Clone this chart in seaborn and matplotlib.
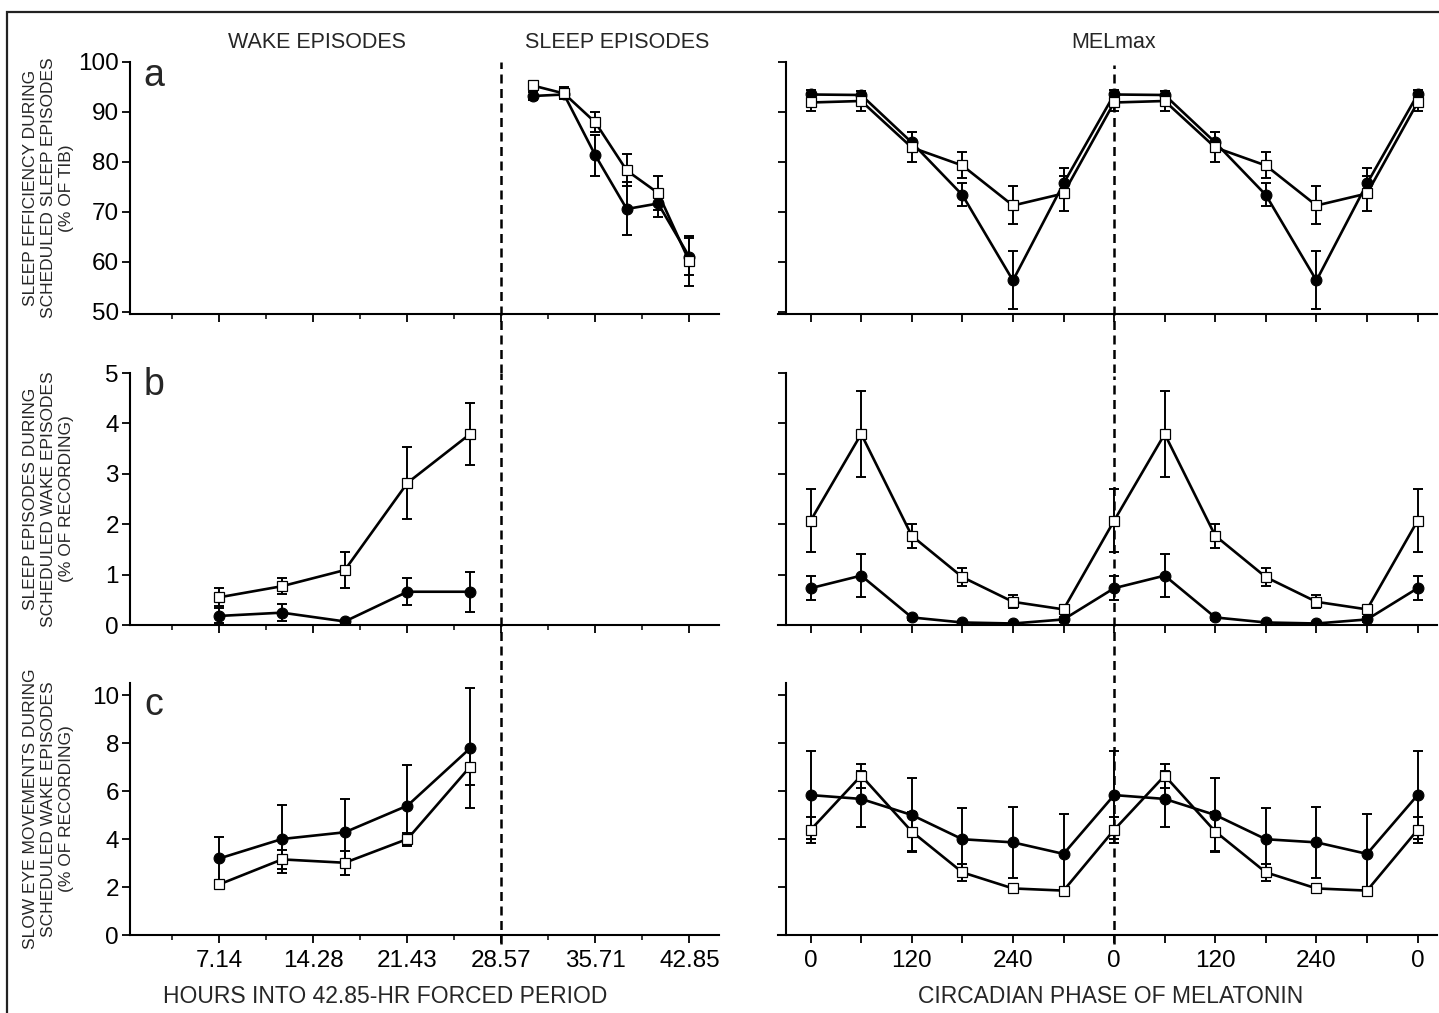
import pandas as pd
import seaborn as sns
import matplotlib.pyplot as plt
from matplotlib.patches import Rectangle

# time bins (hours into the 42.85-h forced period)
wake_hours = [7.14, 11.90, 16.67, 21.43, 26.19]
sleep_hours = [30.95, 33.33, 35.71, 38.09, 40.47, 42.85]
hour_ticks = [7.14, 14.28, 21.43, 28.57, 35.71, 42.85]
hour_minor = [3.57, 10.71, 17.86, 25.0, 32.14, 39.28]
hour_labels = ['7.14', '14.28', '21.43', '28.57', '35.71', '42.85']

# circadian phase bins (double plotted)
phase = [0, 60, 120, 180, 240, 300, 360, 420, 480, 540, 600, 660, 720]
phase_labels = ['0', '', '120', '', '240', '', '0', '', '120', '', '240', '', '0']

# a: sleep efficiency during scheduled sleep episodes
eff_circ = [93.2, 93.5, 81.3, 70.6, 71.7, 61.0]
eff_circ_se = [0.8, 1.0, 4.1, 5.3, 2.8, 3.7]
eff_sq = [95.3, 93.7, 87.9, 78.3, 73.8, 60.1]
eff_sq_se = [0.7, 1.2, 2.0, 3.2, 3.4, 5.0]

mel_eff_circ = [93.5, 93.4, 83.9, 73.4, 56.3, 75.7]
mel_eff_circ_se = [0.9, 0.8, 2.0, 2.3, 5.8, 3.0]
mel_eff_sq = [91.9, 92.2, 82.9, 79.3, 71.3, 73.7]
mel_eff_sq_se = [1.8, 2.0, 3.0, 2.6, 3.8, 3.5]

# b: sleep episodes during scheduled wake episodes
se_circ = [0.18, 0.245, 0.07, 0.66, 0.66]
se_circ_se = [0.15, 0.17, 0.03, 0.27, 0.40]
se_sq = [0.55, 0.77, 1.09, 2.82, 3.79]
se_sq_se = [0.18, 0.16, 0.36, 0.71, 0.62]

mel_se_circ = [0.73, 0.98, 0.15, 0.05, 0.03, 0.11]
mel_se_circ_se = [0.24, 0.43, 0.05, 0.02, 0.02, 0.05]
mel_se_sq = [2.07, 3.79, 1.77, 0.95, 0.46, 0.31]
mel_se_sq_se = [0.63, 0.86, 0.24, 0.18, 0.13, 0.05]

# c: slow eye movements during scheduled wake episodes
sem_circ = [3.19, 4.00, 4.28, 5.39, 7.78]
sem_circ_se = [0.9, 1.42, 1.37, 1.7, 2.5]
sem_sq = [2.11, 3.15, 3.01, 4.00, 7.01]
sem_sq_se = [0.15, 0.4, 0.49, 0.25, 0.76]

mel_sem_circ = [5.83, 5.67, 5.00, 3.99, 3.86, 3.38]
mel_sem_circ_se = [1.83, 1.18, 1.53, 1.29, 1.49, 1.65]
mel_sem_sq = [4.38, 6.64, 4.31, 2.61, 1.94, 1.85]
mel_sem_sq_se = [0.55, 0.5, 0.8, 0.35, 0.1, 0.15]


def double_plot(v):
    # one cycle of bins shown twice, plus the first bin again
    return list(v) + list(v) + list(v[:1])


sns.set_style('ticks')
plt.rcParams['font.family'] = ['Liberation Sans', 'DejaVu Sans']

W, H = 1439, 1013
fig = plt.figure(figsize=(W / 100, H / 100), dpi=100)

row_bottoms = [1 - 314 / H, 1 - 625 / H, 1 - 935 / H]
row_h = 252 / H
ylims = [(49.6, 100), (0, 5), (0, 10.5)]
yticks = [[50, 60, 70, 80, 90, 100], [0, 1, 2, 3, 4, 5], [0, 2, 4, 6, 8, 10]]


def style_axes(ax, ylim, yt):
    for s in ['top', 'right']:
        ax.spines[s].set_visible(False)
    for s in ['left', 'bottom']:
        ax.spines[s].set_linewidth(1.5)
        ax.spines[s].set_color('black')
    ax.set_ylim(*ylim)
    ax.set_yticks(yt)
    ax.tick_params(axis='both', which='major', direction='out', length=5.5,
                   width=1.3, labelsize=17.5, colors='black', pad=2.5)
    ax.tick_params(axis='x', which='minor', direction='out', length=3.5, width=1.3)
    ax.set_xlabel('')
    ax.set_ylabel('')


def draw(ax, x, circ, circ_se, sq, sq_se):
    ax.errorbar(x, circ, yerr=circ_se, fmt='none', ecolor='black',
                elinewidth=1.4, capsize=3.5, capthick=1.4, zorder=2)
    ax.errorbar(x, sq, yerr=sq_se, fmt='none', ecolor='black',
                elinewidth=1.4, capsize=3.5, capthick=1.4, zorder=2)
    df = pd.DataFrame({'x': x, 'circ': circ, 'sq': sq})
    sns.lineplot(data=df, x='x', y='circ', ax=ax, color='black', lw=1.9,
                 marker='o', ms=7.8, mfc='black', mec='black', mew=0.8,
                 sort=False, zorder=3)
    sns.lineplot(data=df, x='x', y='sq', ax=ax, color='black', lw=1.9,
                 marker='s', ms=6.8, mfc='white', mec='black', mew=0.9,
                 sort=False, zorder=4)


left_axes = []
right_axes = []
for i in range(3):
    axl = fig.add_axes([130 / W, row_bottoms[i], 589 / W, row_h])
    axr = fig.add_axes([778 / W, row_bottoms[i], 659 / W, row_h])
    left_axes.append(axl)
    right_axes.append(axr)

# panel data
draw(left_axes[0], sleep_hours, eff_circ, eff_circ_se, eff_sq, eff_sq_se)
draw(left_axes[1], wake_hours, se_circ, se_circ_se, se_sq, se_sq_se)
draw(left_axes[2], wake_hours, sem_circ, sem_circ_se, sem_sq, sem_sq_se)

draw(right_axes[0], phase, double_plot(mel_eff_circ), double_plot(mel_eff_circ_se),
     double_plot(mel_eff_sq), double_plot(mel_eff_sq_se))
draw(right_axes[1], phase, double_plot(mel_se_circ), double_plot(mel_se_circ_se),
     double_plot(mel_se_sq), double_plot(mel_se_sq_se))
draw(right_axes[2], phase, double_plot(mel_sem_circ), double_plot(mel_sem_circ_se),
     double_plot(mel_sem_sq), double_plot(mel_sem_sq_se))

dash = (0, (3.6, 2.2))
for i in range(3):
    axl, axr = left_axes[i], right_axes[i]
    style_axes(axl, ylims[i], yticks[i])
    style_axes(axr, ylims[i], yticks[i])

    axl.set_xlim(0.35, 45.1)
    axl.set_xticks(hour_ticks)
    axl.set_xticks(hour_minor, minor=True)
    axr.set_xlim(-38.7, 743)
    axr.spines['left'].set_position(('data', -29.4))
    axr.set_xticks(phase)
    axr.set_yticklabels([])
    if i == 2:
        axl.set_xticklabels(hour_labels)
        axr.set_xticklabels(phase_labels)
        axl.tick_params(axis='x', pad=5)
        axr.tick_params(axis='x', pad=5)
    else:
        axl.set_xticklabels([])
        axr.set_xticklabels([])

    lo = -0.035 if i == 2 else -0.235
    axl.axvline(28.57, ymin=lo, ymax=1.0, color='black', lw=1.8, ls=dash,
                clip_on=False, zorder=1)
    axr.axvline(360, ymin=lo, ymax=0.99, color='black', lw=1.8, ls=dash,
                clip_on=False, zorder=1)

# column headers
fig.text(317 / W, 1 - 42 / H, 'WAKE EPISODES', ha='center', va='center', fontsize=15.5)
fig.text(617 / W, 1 - 42 / H, 'SLEEP EPISODES', ha='center', va='center', fontsize=15.5)
fig.text(1114 / W, 1 - 42 / H, 'MELmax', ha='center', va='center', fontsize=15.5)

# panel letters
for letter, ybase in zip(['a', 'b', 'c'], [86, 395, 715]):
    fig.text(154 / W, 1 - ybase / H, letter, ha='center', va='baseline', fontsize=27)

# y labels
ylabels = ['SLEEP EFFICIENCY DURING\nSCHEDULED SLEEP EPISODES\n(% OF TIB)',
           'SLEEP EPISODES DURING\nSCHEDULED WAKE EPISODES\n(% OF RECORDING)',
           'SLOW EYE MOVEMENTS DURING\nSCHEDULED WAKE EPISODES\n(% OF RECORDING)']
for i, lab in enumerate(ylabels):
    fig.text(49 / W, row_bottoms[i] + row_h / 2, lab, rotation=90, ha='center',
             va='center', multialignment='center', fontsize=12.5, linespacing=1.25)

# x labels
fig.text(385 / W, 1 - 996 / H, 'HOURS INTO 42.85-HR FORCED PERIOD', ha='center',
         va='center', fontsize=16.5)
fig.text(1111 / W, 1 - 996 / H, 'CIRCADIAN PHASE OF MELATONIN', ha='center',
         va='center', fontsize=16.5)

# outer frame
fig.patches.append(Rectangle((7 / W, -0.05), 1.2, 1.05 - 12 / H, transform=fig.transFigure,
                             fill=False, edgecolor='#222222', lw=1.6))

fig.savefig('out.png', dpi=100)
